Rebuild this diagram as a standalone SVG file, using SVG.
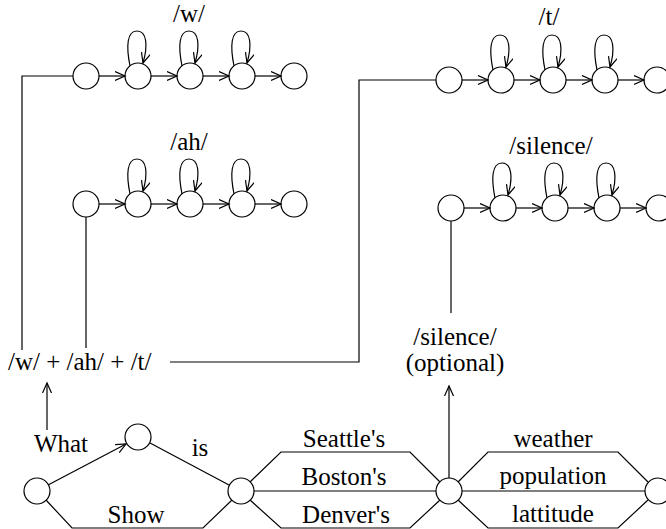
<svg xmlns="http://www.w3.org/2000/svg" width="666" height="529" viewBox="0 0 666 529">
<defs>
<marker id="arr" markerUnits="userSpaceOnUse" markerWidth="14" markerHeight="12" refX="10" refY="5" orient="auto">
<path d="M0,0.5 L10,5 L0,9.5" fill="none" stroke="#000" stroke-width="1.2"/>
</marker>
<g id="hmm" fill="none" stroke="#000" stroke-width="1.2">
<circle cx="0" cy="0" r="13" fill="#fff"/>
<circle cx="52" cy="0" r="13" fill="#fff"/>
<circle cx="104" cy="0" r="13" fill="#fff"/>
<circle cx="156" cy="0" r="13" fill="#fff"/>
<circle cx="208" cy="0" r="13" fill="#fff"/>
<line x1="13" y1="0" x2="39" y2="0" marker-end="url(#arr)"/>
<line x1="65" y1="0" x2="91" y2="0" marker-end="url(#arr)"/>
<line x1="117" y1="0" x2="143" y2="0" marker-end="url(#arr)"/>
<line x1="169" y1="0" x2="195" y2="0" marker-end="url(#arr)"/>
<path d="M44,-10 C40,-30 41,-45 51,-45 C61,-45 62,-30 57,-13" marker-end="url(#arr)"/>
<path d="M96,-10 C92,-30 93,-45 103,-45 C113,-45 114,-30 109,-13" marker-end="url(#arr)"/>
<path d="M148,-10 C144,-30 145,-45 155,-45 C165,-45 166,-30 161,-13" marker-end="url(#arr)"/>
</g>
</defs>
<style>
.s{fill:none;stroke:#000;stroke-width:1.2}
.n circle{fill:#fff;stroke:#000;stroke-width:1.2}
</style>
<rect width="666" height="529" fill="#fff"/>

<g id="connectors" class="s">
<polyline points="73,76 22,76 22,350"/>
<line x1="86" y1="217" x2="86" y2="348"/>
<polyline points="170,362 359,362 359,80 436,80"/>
<line x1="451" y1="221" x2="451" y2="313"/>
<line x1="47" y1="430" x2="47" y2="383" marker-end="url(#arr)"/>
<line x1="449" y1="478" x2="449" y2="386" marker-end="url(#arr)"/>
<line x1="48" y1="485" x2="126" y2="444" marker-end="url(#arr)"/>
<line x1="150" y1="443" x2="229" y2="485"/>
<polyline points="46,500 72,528 203,528 232,500"/>
<polyline points="250,482 281,452 410,452 440,482"/>
<line x1="254" y1="491" x2="436" y2="491"/>
<polyline points="250,500 281,528 410,528 440,500"/>
<polyline points="458,482 488,452 618,452 648,482"/>
<line x1="462" y1="491" x2="645" y2="491"/>
<polyline points="458,500 488,528 618,528 648,500"/>
</g>

<g font-family="Liberation Serif, DejaVu Serif, serif" font-size="25" fill="#000" text-anchor="middle">
<g id="hmm-w"><use href="#hmm" x="86" y="76"/><text x="189" y="22">/w/</text></g>
<g id="hmm-ah"><use href="#hmm" x="86" y="204"/><text x="189" y="150">/ah/</text></g>
<g id="hmm-t"><use href="#hmm" x="449" y="80"/><text x="549" y="25">/t/</text></g>
<g id="hmm-silence"><use href="#hmm" x="451" y="208"/><text x="551" y="154">/silence/</text></g>

<g id="word-model"><text x="8" y="370" text-anchor="start">/w/ + /ah/ + /t/</text></g>
<g id="silence-opt"><text x="455" y="345">/silence/</text><text x="455" y="371">(optional)</text></g>

<g id="n0" class="n"><circle cx="37" cy="491" r="13"/></g>
<g id="n1" class="n"><circle cx="138" cy="437" r="13"/></g>
<g id="n2" class="n"><circle cx="241" cy="491" r="13"/></g>
<g id="n3" class="n"><circle cx="449" cy="491" r="13"/></g>
<g id="n4" class="n"><circle cx="658" cy="491" r="13"/></g>

<g id="labels">
<text x="61" y="452">What</text>
<text x="200" y="456">is</text>
<text x="136" y="523">Show</text>
<text x="344" y="447">Seattle's</text>
<text x="344" y="485">Boston's</text>
<text x="346" y="523">Denver's</text>
<text x="553" y="447">weather</text>
<text x="553" y="484">population</text>
<text x="553" y="522">lattitude</text>
</g>
</g>
</svg>
